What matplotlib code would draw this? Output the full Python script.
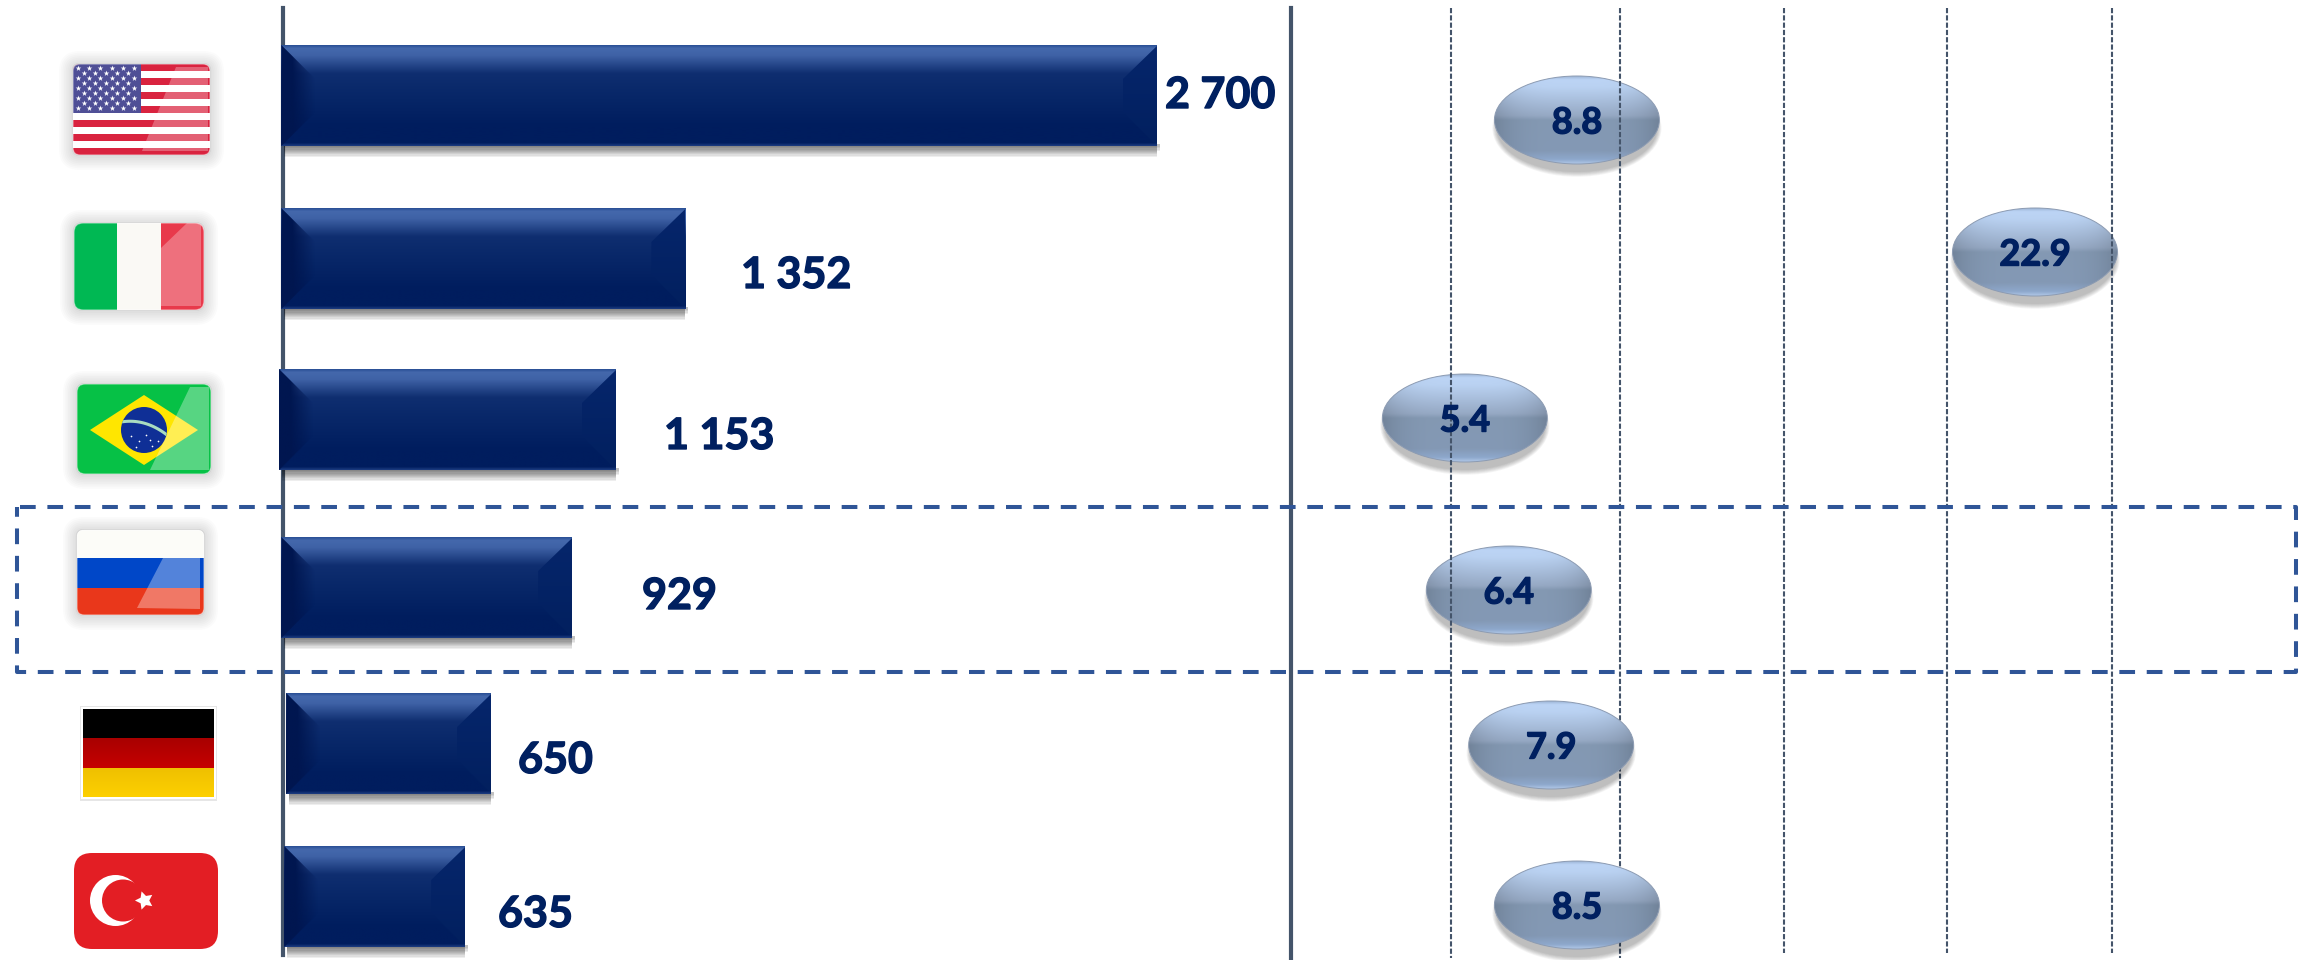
from __future__ import annotations

import matplotlib

matplotlib.use("Agg")
import matplotlib.patheffects as pe
import matplotlib.pyplot as plt
import numpy as np
from matplotlib.colors import to_rgb
from matplotlib.patches import Circle, Ellipse, FancyBboxPatch, Polygon, Rectangle

plt.rcParams["font.family"] = ["Lato", "DejaVu Sans"]

countries = ["USA", "Italy", "Brazil", "Russia", "Germany", "Turkey"]
value_labels = ["2 700", "1 352", "1 153", "929", "650", "635"]
rate_labels = ["8.8", "22.9", "5.4", "6.4", "7.9", "8.5"]

# lengths as drawn in the picture, they do not follow the labels exactly
bar_lengths = [2700, 1246, 1039, 897, 632, 558]
bar_starts = [0, 0, -7, 0, 15, 9]
rate_positions = [8.81, 22.67, 5.42, 6.75, 8.03, 8.81]
grid_positions = [5.0, 10.1, 15.07, 20.0, 25.0]
grid_ends = [958, 958, 953, 953, 953]

# layout, in pixels of the 2300x960 picture
W, H = 2300, 960
BAR_ZERO = 281.3
BAR_PX = 0.3243
RATE_ZERO = 1451.0
RATE_PX = 33.05
bar_top = [45, 208, 369, 537, 693, 846]
BAR_H = 101
bubble_y = [120, 252, 418, 590, 745, 905]
bubble_over_grid = [False, False, False, False, True, True]
BUB_W, BUB_H = 165, 88
value_x = [1165, 741, 664, 642, 518, 498]
value_y = [95, 275, 436, 596, 760, 914]

NAVY = "#002060"
LINE = "#44546a"
DASH = "#2f5597"
THICK = [pe.withStroke(linewidth=1.0, foreground=NAVY)]


def ramp(stops, n=200):
    pos = [s[0] for s in stops]
    rgb = np.array([to_rgb(s[1]) for s in stops])
    t = np.linspace(0, 1, n)
    return np.stack([np.interp(t, pos, rgb[:, i]) for i in range(3)], axis=1)


def overlay_axes(fig, xlim, zorder):
    ax = fig.add_axes([0, 0, 1, 1], zorder=zorder)
    ax.set_xlim(*xlim)
    ax.set_ylim(H, 0)
    ax.set_autoscale_on(False)
    ax.axis("off")
    return ax


def draw_bars(ax):
    bars = ax.barh(
        [t + BAR_H / 2 for t in bar_top],
        bar_lengths,
        height=BAR_H,
        left=bar_starts,
        color=NAVY,
        zorder=3,
    )
    grad = ramp([
        (0, "#2a4f95"), (0.03, "#4468ac"), (0.1, "#3f62a6"), (0.28, "#0f2e70"),
        (0.5, "#082768"), (0.8, "#001d5e"), (0.97, "#001d5e"), (1, "#1c3c80"),
    ])[:, None, :]
    right_grad = ramp([(0, "#06266c"), (0.97, "#02205f"), (1, "#1c3c80")])[:, None, :]
    dark = np.zeros((1, 60, 4))
    dark[..., :3] = to_rgb("#001650")
    dark[..., 3] = np.clip(1.5 - np.linspace(0, 1.5, 60), 0, 1)
    bevel = 34
    bx = bevel / BAR_PX
    for bar in bars:
        x0, x1 = bar.get_x(), bar.get_x() + bar.get_width()
        y0, y1 = bar.get_y(), bar.get_y() + bar.get_height()
        # shadow under and right of the bar
        for k in range(1, 10):
            ax.add_patch(Rectangle((x0 + 3 / BAR_PX, y1 - 2), x1 - x0 - 3 / BAR_PX + 3 / BAR_PX * (k < 5),
                                   k * 1.2 + 2, color="black", alpha=0.065, lw=0, zorder=2))
        im = ax.imshow(grad, extent=(x0, x1, y1, y0), aspect="auto", zorder=4, interpolation="bilinear")
        im.set_clip_path(bar)
        left = Polygon([(x0, y0), (x0 + bx, y0 + bevel), (x0 + bx, y1 - bevel), (x0, y1)],
                       closed=True, fc="none", ec="none", zorder=5)
        ax.add_patch(left)
        im = ax.imshow(dark, extent=(x0, x0 + bx, y1, y0), aspect="auto", zorder=5, interpolation="bilinear")
        im.set_clip_path(left)
        right = Polygon([(x1, y0 + 1), (x1 - bx, y0 + bevel), (x1 - bx, y1 - bevel), (x1, y1)],
                        closed=True, fc="none", ec="none", zorder=5)
        ax.add_patch(right)
        im = ax.imshow(right_grad, extent=(x1 - bx, x1, y1, y0), aspect="auto", zorder=5, interpolation="bilinear")
        im.set_clip_path(right)


def bubble_image():
    col = ramp([
        (0, "#9db5d6"), (0.04, "#bcd4f5"), (0.12, "#bad2f2"), (0.45, "#96a9c4"), (0.5, "#8499b3"),
        (0.85, "#8499b5"), (0.95, "#8ea8cc"), (1, "#b0c8e8"),
    ])
    u = np.linspace(-1, 1, 200)
    shade = 1 - 0.14 * np.abs(u) ** 4
    return np.clip(col[:, None, :] * shade[None, :, None], 0, 1)


def draw_bubbles(ax):
    img = bubble_image()
    w = BUB_W / RATE_PX
    for pos, y, label, over in zip(rate_positions, bubble_y, rate_labels, bubble_over_grid):
        z = 4 if over else 2
        for k in range(7):
            ax.add_patch(Ellipse((pos, y + 8), w + (3 - k) * 1.4 / RATE_PX, BUB_H + (6 - k) * 1.6,
                                 color="black", alpha=0.04, lw=0, zorder=z))
        shape = Ellipse((pos, y), w, BUB_H, fc="none", ec="#8c9bb2", lw=0.7, zorder=z + 0.2)
        ax.add_patch(shape)
        clip = Ellipse((pos, y), w, BUB_H, fc="none", ec="none", zorder=z)
        ax.add_patch(clip)
        im = ax.imshow(img, extent=(pos - w / 2, pos + w / 2, y + BUB_H / 2, y - BUB_H / 2),
                       aspect="auto", zorder=z + 0.1, interpolation="bilinear")
        im.set_clip_path(clip)
        ax.text(pos, y + 3, label, ha="center", va="center", fontsize=26, fontweight="bold",
                color=NAVY, zorder=6, path_effects=THICK)


def rounded(ax, x0, y0, x1, y1, r, **kw):
    patch = FancyBboxPatch((x0 + r, y0 + r), x1 - x0 - 2 * r, y1 - y0 - 2 * r,
                           boxstyle=f"round,pad={r},rounding_size={r}", **kw)
    ax.add_patch(patch)
    return patch


def flag_base(ax, x0, y0, x1, y1, r):
    for k in range(8):
        p = 14 - k * 1.7
        rounded(ax, x0 - p, y0 - p + 1, x1 + p, y1 + p + 1, r + p, fc="black", ec="none", alpha=0.014, zorder=2)
    rounded(ax, x0 - 1, y0 - 1, x1 + 1, y1 + 1, r + 1, fc="#c8c8c8", ec="none", zorder=2.5)
    clip = rounded(ax, x0, y0, x1, y1, r, fc="white", ec="none", zorder=3)
    return clip


def flag_rim(ax, x0, y0, x1, y1, r):
    rounded(ax, x0, y0, x1, y1, r, fc="none", ec="white", alpha=0.45, lw=1.0, zorder=8)


def stripe(ax, clip, x0, y0, x1, y1, color, alpha=1.0, z=4):
    p = Rectangle((x0, y0), x1 - x0, y1 - y0, fc=color, ec="none", alpha=alpha, zorder=z)
    ax.add_patch(p)
    p.set_clip_path(clip)
    return p


def gloss(ax, clip, pts, alpha=0.28):
    p = Polygon(pts, closed=True, fc="white", ec="none", alpha=alpha, zorder=7)
    ax.add_patch(p)
    p.set_clip_path(clip)


def flag_usa(ax):
    x0, y0, x1, y1 = 73, 64, 210, 155
    clip = flag_base(ax, x0, y0, x1, y1, 7)
    h = (y1 - y0) / 13
    for i in range(0, 13, 2):
        stripe(ax, clip, x0, y0 + i * h, x1, y0 + (i + 1) * h, "#d9233f")
    stripe(ax, clip, x0, y0, 141, y0 + 7 * h, "#4f4f96", z=5)
    xs, ys = [], []
    for row in range(9):
        n = 6 if row % 2 == 0 else 5
        for c in range(n):
            xs.append(78 + c * 11.2 + (0 if row % 2 == 0 else 5.6))
            ys.append(67.5 + row * 5.1)
    ax.scatter(xs, ys, marker="*", s=18, color="white", linewidths=0, zorder=6)
    gloss(ax, clip, [(176, y0 + 3), (x1 - 2, y0 + 3), (x1 - 2, y1 - 4), (142, y1 - 4)], 0.28)
    flag_rim(ax, x0, y0, x1, y1, 7)


def flag_italy(ax):
    x0, y0, x1, y1 = 74, 223, 204, 310
    clip = flag_base(ax, x0, y0, x1, y1, 9)
    stripe(ax, clip, x0, y0, 117, y1, "#00b853")
    stripe(ax, clip, 117, y0, 161, y1, "#faf9f5")
    stripe(ax, clip, 161, y0, x1, y1, "#e8394b")
    gloss(ax, clip, [(187, y0), (x1 - 3, y0), (x1 - 3, y1 - 4), (161, y1 - 4), (161, 248)], 0.28)
    flag_rim(ax, x0, y0, x1, y1, 9)


def flag_brazil(ax):
    x0, y0, x1, y1 = 77, 384, 211, 474
    clip = flag_base(ax, x0, y0, x1, y1, 8)
    stripe(ax, clip, x0, y0, x1, y1, "#06c146")
    ax.add_patch(Polygon([(90, 430), (144, 395), (198, 430), (144, 465)], closed=True, fc="#ffe600", ec="none", zorder=5))
    disc = Circle((144, 430), 23, fc="#0f2f96", ec="none", zorder=6)
    ax.add_patch(disc)
    t = np.linspace(0, 1, 30)
    band, = ax.plot((1 - t) ** 2 * 121 + 2 * t * (1 - t) * 145 + t ** 2 * 167,
                    (1 - t) ** 2 * 422 + 2 * t * (1 - t) * 418 + t ** 2 * 435,
                    color="#a9dcc0", lw=2.2, zorder=6.5)
    band.set_clip_path(disc)
    ax.scatter([131, 139, 146, 152, 158, 136, 150], [436, 441, 435, 446, 441, 447, 440],
               s=1.5, color="white", linewidths=0, zorder=6.5)
    gloss(ax, clip, [(190, y0 + 3), (x1 - 2, y0 + 3), (x1 - 2, y1 - 4), (150, y1 - 4)], 0.33)
    flag_rim(ax, x0, y0, x1, y1, 8)


def flag_russia(ax):
    x0, y0, x1, y1 = 77, 530, 204, 615
    clip = flag_base(ax, x0, y0, x1, y1, 7)
    stripe(ax, clip, x0, y0, x1, 558, "#fcfcf8")
    stripe(ax, clip, x0, 558, x1, 588, "#0047c8")
    stripe(ax, clip, x0, 588, x1, y1, "#e9371b")
    gloss(ax, clip, [(163, 558), (200, 558), (200, 609), (137, 608)], 0.33)
    flag_rim(ax, x0, y0, x1, y1, 7)


def flag_germany(ax):
    ax.add_patch(Rectangle((80, 706), 137, 95, fc="#e6e6e6", ec="none", zorder=2))
    ax.add_patch(Rectangle((81, 707), 135, 92, fc="white", ec="none", zorder=3))
    ax.add_patch(Rectangle((83, 709), 131, 29, fc="black", ec="none", zorder=4))
    for y0, h, stops in [(738, 30, [(0, "#a80000"), (1, "#c60000")]), (768, 29, [(0, "#efc000"), (1, "#fdd000")])]:
        ax.imshow(ramp(stops)[:, None, :], extent=(83, 214, y0 + h, y0), aspect="auto", zorder=4)


def flag_turkey(ax):
    rounded(ax, 74, 853, 218, 949, 18, fc="#e31e24", ec="none", zorder=3)
    ax.add_patch(Circle((115.5, 900.5), 25.5, fc="white", ec="none", zorder=4))
    ax.add_patch(Circle((123, 900.5), 21, fc="#e31e24", ec="none", zorder=5))
    ax.scatter([144], [900], marker=(5, 1, 90), s=190, color="white", linewidths=0, zorder=6)


def main():
    fig = plt.figure(figsize=(W / 100, H / 100), dpi=100, facecolor="white")

    rate_ax = overlay_axes(fig, ((0 - RATE_ZERO) / RATE_PX + 5, (W - RATE_ZERO) / RATE_PX + 5), 1)
    for x, end in zip(grid_positions, grid_ends):
        rate_ax.plot([x, x], [8, end], color=LINE, lw=1.5, ls=(0, (2.5, 1)), zorder=3)
    draw_bubbles(rate_ax)

    bar_ax = overlay_axes(fig, ((0 - BAR_ZERO) / BAR_PX, (W - BAR_ZERO) / BAR_PX), 2)
    bar_ax.plot([5, 5], [8, 955], color=LINE, lw=3.0, zorder=1)
    draw_bars(bar_ax)

    top_ax = overlay_axes(fig, (0, W), 3)
    top_ax.plot([1291, 1291], [8, 960], color=LINE, lw=3.0, zorder=1)
    for label, x, y in zip(value_labels, value_x, value_y):
        top_ax.text(x, y, label, ha="left", va="center", fontsize=31, fontweight="bold", color=NAVY,
                    zorder=8, path_effects=THICK)
    flag_usa(top_ax)
    flag_italy(top_ax)
    flag_brazil(top_ax)
    flag_russia(top_ax)
    flag_germany(top_ax)
    flag_turkey(top_ax)

    # highlight box around Russia, clockwise from the top left
    top_ax.plot([20, 2296, 2296, 17, 17], [507, 507, 672, 672, 507], color=DASH, lw=2.9,
                ls=(0, (3.9, 2.9)), zorder=9)

    fig.savefig("out.png", dpi=100)
    plt.close(fig)


if __name__ == "__main__":
    main()
